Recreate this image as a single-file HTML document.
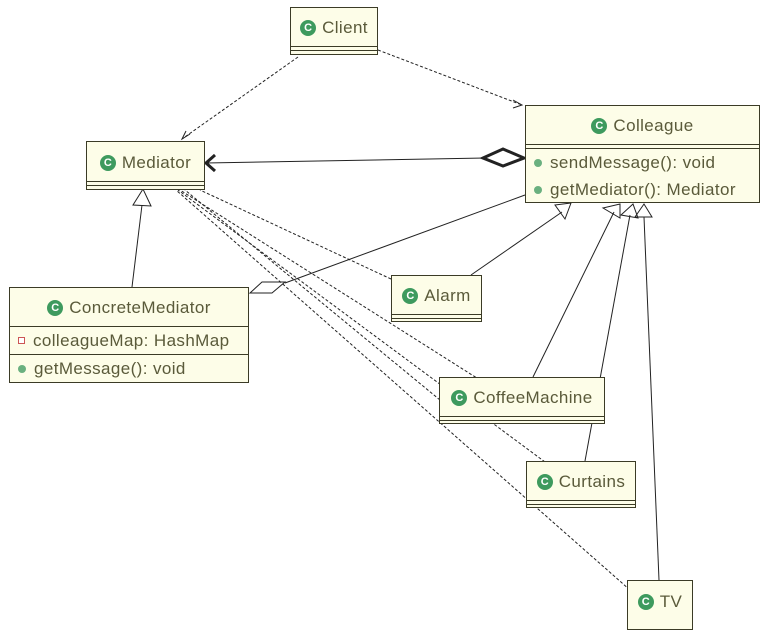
<!DOCTYPE html><html><head><style>
body{margin:0;background:#fff;width:769px;height:624px;overflow:hidden;position:relative;font-family:"Liberation Sans","DejaVu Sans",sans-serif}
.b{position:absolute;background:#fdfde8;border:1.5px solid #3b3b26;box-sizing:border-box;color:#5a5a3a;font-size:17px;letter-spacing:0.4px;white-space:nowrap}
.n{display:flex;align-items:center;justify-content:center;gap:6px;padding-top:2px;box-sizing:border-box}
.g{width:16px;height:16px;border-radius:50%;background:#3e9a5e;color:#fff;font-size:11px;font-weight:bold;display:inline-flex;align-items:center;justify-content:center;letter-spacing:0}
.s{border-top:1.5px solid #3b3b26}
.r{display:flex;align-items:center;gap:8px;padding-left:8px;height:25px}
.d{width:8px;height:8px;border-radius:50%;background:#6ab07f}
</style></head><body>
<svg width="769" height="624" style="position:absolute;left:0;top:0">
<g stroke="#222" fill="none" stroke-width="1">
<g stroke-dasharray="3,2">
<line x1="298" y1="57" x2="182" y2="139"/><line x1="378" y1="50" x2="522" y2="105"/>
<line x1="391" y1="279" x2="200" y2="190"/><line x1="480" y1="380" x2="180" y2="190"/>
<line x1="545" y1="462" x2="178" y2="190"/><line x1="630" y1="590" x2="176" y2="190"/>
<line x1="440" y1="400" x2="185" y2="190"/>
</g>
<path d="M190 134 L182 139 L186 131"/><path d="M513 100 L522 105 L513 108"/>
<line x1="206" y1="163" x2="485" y2="158"/>
<path d="M215 155 L206 163 L215 171" stroke-width="3"/>
<path d="M483 158 L503 149 L524 158 L503 166 Z" stroke-width="3"/>
<line x1="285" y1="283" x2="525" y2="195"/>
<path d="M250 293 L262 282 L285 282 L272 293 Z"/>
<line x1="132" y1="287" x2="142" y2="205"/><path d="M133 205 L143 189 L151 206 Z"/>
<line x1="471" y1="275" x2="562" y2="212"/><path d="M555 205 L571 203 L565 219 Z"/>
<line x1="533" y1="377" x2="614" y2="212"/><path d="M603 208 L620 204 L620 218 Z"/>
<line x1="585" y1="461" x2="630" y2="215"/><path d="M621 215 L633 204 L638 218 Z"/>
<line x1="659" y1="580" x2="644" y2="217"/><path d="M635 217 L644 204 L652 217 Z"/>
</g></svg>
<div class="b" style="left:290px;top:7px;width:88px;height:48px"><div class="n" style="height:38px"><span class="g">C</span>Client</div><div class="s" style="height:3px"></div><div class="s"></div></div>
<div class="b" style="left:86px;top:141px;width:119px;height:49px"><div class="n" style="height:39px"><span class="g">C</span>Mediator</div><div class="s" style="height:3px"></div><div class="s"></div></div>
<div class="b" style="left:9px;top:287px;width:240px;height:96px"><div class="n" style="height:38px"><span class="g">C</span>ConcreteMediator</div><div class="s r" style="height:27px"><span style="width:5px;height:5px;border:1px solid #c55;background:#fff"></span>colleagueMap: HashMap</div><div class="s r" style="height:27px"><span class="d"></span>getMessage(): void</div></div>
<div class="b" style="left:525px;top:105px;width:235px;height:98px"><div class="n" style="height:38px"><span class="g">C</span>Colleague</div><div class="s" style="height:3px"></div><div class="s r" style="height:27px"><span class="d"></span>sendMessage(): void</div><div class="r" style="height:27px"><span class="d"></span>getMediator(): Mediator</div></div>
<div class="b" style="left:391px;top:275px;width:91px;height:47px"><div class="n" style="height:38px"><span class="g">C</span>Alarm</div><div class="s" style="height:3px"></div><div class="s"></div></div>
<div class="b" style="left:439px;top:377px;width:166px;height:47px"><div class="n" style="height:38px"><span class="g">C</span>CoffeeMachine</div><div class="s" style="height:3px"></div><div class="s"></div></div>
<div class="b" style="left:526px;top:461px;width:110px;height:47px"><div class="n" style="height:38px"><span class="g">C</span>Curtains</div><div class="s" style="height:3px"></div><div class="s"></div></div>
<div class="b" style="left:627px;top:580px;width:66px;height:50px"><div class="n" style="height:40px"><span class="g">C</span>TV</div></div>
</body></html>
